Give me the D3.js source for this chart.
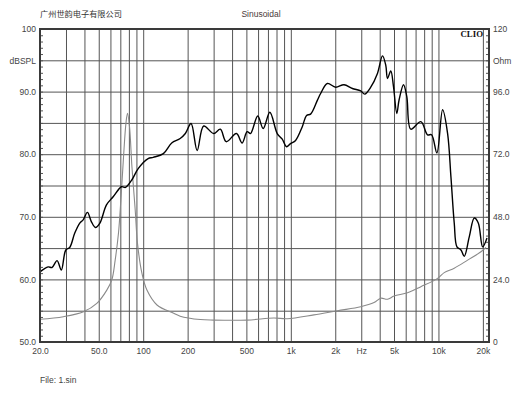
<!DOCTYPE html>
<html><head><meta charset="utf-8">
<script src="https://cdn.jsdelivr.net/npm/d3@7/dist/d3.min.js"></script>
<style>body{margin:0;background:#fff}svg{display:block}</style>
</head><body><svg id="c" width="530" height="398"></svg>
<script>
// ---- data ----
const splFreq = [20,22.7,24.1,26.1,27.9,29.9,31.8,34.4,37.2,39.2,41.9,44.6,47.5,50.9,56.4,62.6,71.3,75.9,84.3,92.5,108,117,137,156,178,193,211,232,257,300,333,365,428,468,506,533,597,650,721,809,875,936,996,1077,1196,1279,1361,1512,1592,1768,2013,2292,2613,2975,3167,3479,3862,4177,4399,4516,4755,4961,5222,5414,5800,6104,6500,7600,8438,8984,9760,10672,11536,12148,12792,13344,14204,14954,16170,17484,18614,19937,21320];
const splDb   = [61.2,62.0,61.9,63.0,61.5,64.7,65.1,67.4,69.0,69.5,70.7,69.2,68.3,69.0,71.9,73.2,74.8,74.7,76.0,77.7,79.3,79.5,80.1,81.8,82.5,83.3,84.9,80.6,84.5,83.3,84.0,82.0,83.3,81.8,83.6,83.3,86.1,84.1,86.7,83.3,82.4,81.2,81.7,82.2,84.4,86.2,86.4,88.6,89.7,91.3,90.7,91.1,90.5,90.1,89.6,90.7,92.9,95.7,94.2,92.1,93.3,90.8,86.5,88.7,91.1,89.2,84.0,85.2,83.1,83.1,80.2,87.1,83.3,76.4,69.0,65.2,64.7,63.7,66.8,69.8,69.0,65.2,66.6];
const impFreq = [20,28.8,39.4,48.5,56.7,61.3,64.6,68.0,70.6,73.6,76.4,78.3,80.8,83.9,88.3,91.5,98.1,106,124,161,178,244,300,506,767,946,1434,2066,2975,3662,4066,4516,5008,6175,7600,9868,10940,12792,15772,19414,20990];
const impOhm  = [8.7,9.7,11.6,14.8,19.9,23.8,31.4,41.7,54.4,71.0,83.8,87.7,82.5,67.2,50.6,37.8,26.3,19.9,14.2,11.0,9.9,8.6,8.4,8.4,9.2,8.9,10.4,12.0,13.5,15.1,16.8,16.4,17.6,18.9,21.2,24.4,26.6,28.3,31.4,34.6,36.3];
const xTickValues = [20,50,100,200,500,1000,2000,3000,5000,10000,20000];
const xTickLabels = ["20.0","50.0","100","200","500","1k","2k","Hz","5k","10k","20k"];
const xGridValues = [30,40,50,60,70,80,90,100,200,300,400,500,600,700,800,900,1000,2000,3000,4000,5000,6000,7000,8000,9000,10000,20000];
const leftTickValues = [100,95,90,80,70,60,50];
const leftTickLabels = ["100","dBSPL","90.0","80.0","70.0","60.0","50.0"];
const rightTickValues = [120,108,96,72,48,24,0];
const rightTickLabels = ["120","Ohm","96.0","72.0","48.0","24.0","0"];
const yGridValues = [55,60,65,70,75,80,85,90,95];
const title = "广州世韵电子有限公司";
const subtitle = "Sinusoidal";
const fileLabel = "File: 1.sin";

// ---- layout ----
const L = 40, R = 489, T = 29, B = 342;
const svg = d3.select("#c");
const x = d3.scaleLog().domain([20, 22000]).range([L, R]);
const y = d3.scaleLinear().domain([50, 100]).range([B, T]);
const yR = d3.scaleLinear().domain([0, 120]).range([B, T]);
const font = "'Liberation Sans', Arial, sans-serif";
const txt = "#444";

// grid
const gx = svg.append("g").attr("transform", `translate(0,${B})`)
  .call(d3.axisBottom(x).tickValues(xGridValues).tickSize(-(B - T)).tickFormat(""));
gx.select(".domain").remove();
gx.selectAll("line").attr("stroke", "#555").attr("stroke-width", 1);

const gy = svg.append("g").attr("transform", `translate(${L},0)`)
  .call(d3.axisLeft(y).tickValues(yGridValues).tickSize(-(R - L)).tickFormat(""));
gy.select(".domain").remove();
gy.selectAll("line").attr("stroke", "#555").attr("stroke-width", 1);

// curves
const imp = impFreq.map((f, i) => ({f, v: impOhm[i]}));
const spl = splFreq.map((f, i) => ({f, v: splDb[i]}));
svg.append("path").datum(imp)
  .attr("d", d3.line().x(d => x(d.f)).y(d => yR(d.v)).curve(d3.curveCatmullRom.alpha(0.5)))
  .attr("fill", "none").attr("stroke", "#8a8a8a").attr("stroke-width", 1.1);
svg.append("path").datum(spl)
  .attr("d", d3.line().x(d => x(d.f)).y(d => y(d.v)).curve(d3.curveCatmullRom.alpha(0.5)))
  .attr("fill", "none").attr("stroke", "#000").attr("stroke-width", 1.4);

// minor ticks (inside)
const lt = svg.append("g").attr("transform", `translate(${L},0)`)
  .call(d3.axisRight(y).tickValues(d3.range(51, 100, 1)).tickSize(3).tickFormat(""));
lt.select(".domain").remove();
lt.selectAll("line").attr("stroke", "#555");
const rt = svg.append("g").attr("transform", `translate(${R},0)`)
  .call(d3.axisLeft(yR).tickValues(d3.range(1, 50).map(i => i * 2.4)).tickSize(3).tickFormat(""));
rt.select(".domain").remove();
rt.selectAll("line").attr("stroke", "#555");

// frame
svg.append("rect").attr("x", L).attr("y", T).attr("width", R - L).attr("height", B - T)
  .attr("fill", "none").attr("stroke", "#3a3a3a").attr("stroke-width", 2);

// axis labels
const ax = svg.append("g").attr("transform", `translate(0,${B})`)
  .call(d3.axisBottom(x).tickValues(xTickValues).tickSize(0).tickPadding(6)
    .tickFormat((d, i) => xTickLabels[i]));
ax.select(".domain").remove();
ax.selectAll("text").attr("font-family", font).attr("font-size", 8.5).attr("fill", txt);

const al = svg.append("g").attr("transform", `translate(${L},0)`)
  .call(d3.axisLeft(y).tickValues(leftTickValues).tickSize(0).tickPadding(4)
    .tickFormat((d, i) => leftTickLabels[i]));
al.select(".domain").remove();
al.selectAll("text").attr("font-family", font).attr("font-size", 8.5).attr("fill", txt);

const ar = svg.append("g").attr("transform", `translate(${R},0)`)
  .call(d3.axisRight(yR).tickValues(rightTickValues).tickSize(0).tickPadding(4)
    .tickFormat((d, i) => rightTickLabels[i]));
ar.select(".domain").remove();
ar.selectAll("text").attr("font-family", font).attr("font-size", 8.5).attr("fill", txt);

// titles
svg.append("text").attr("x", 40).attr("y", 17).text(title)
  .attr("font-family", "'Noto Sans CJK SC', sans-serif").attr("font-size", 8.2).attr("fill", "#333");
svg.append("text").attr("x", 261).attr("y", 17).attr("text-anchor", "middle").text(subtitle)
  .attr("font-family", font).attr("font-size", 8.5).attr("fill", "#4a3a3a");
svg.append("text").attr("x", 483).attr("y", 37).attr("text-anchor", "end").text("CLIO")
  .attr("font-family", "'Liberation Serif', 'Times New Roman', serif").attr("font-weight", "bold")
  .attr("font-size", 8.8).attr("fill", "#111");
svg.append("text").attr("x", 40).attr("y", 383).text(fileLabel)
  .attr("font-family", font).attr("font-size", 8.5).attr("fill", txt);
</script></body></html>
